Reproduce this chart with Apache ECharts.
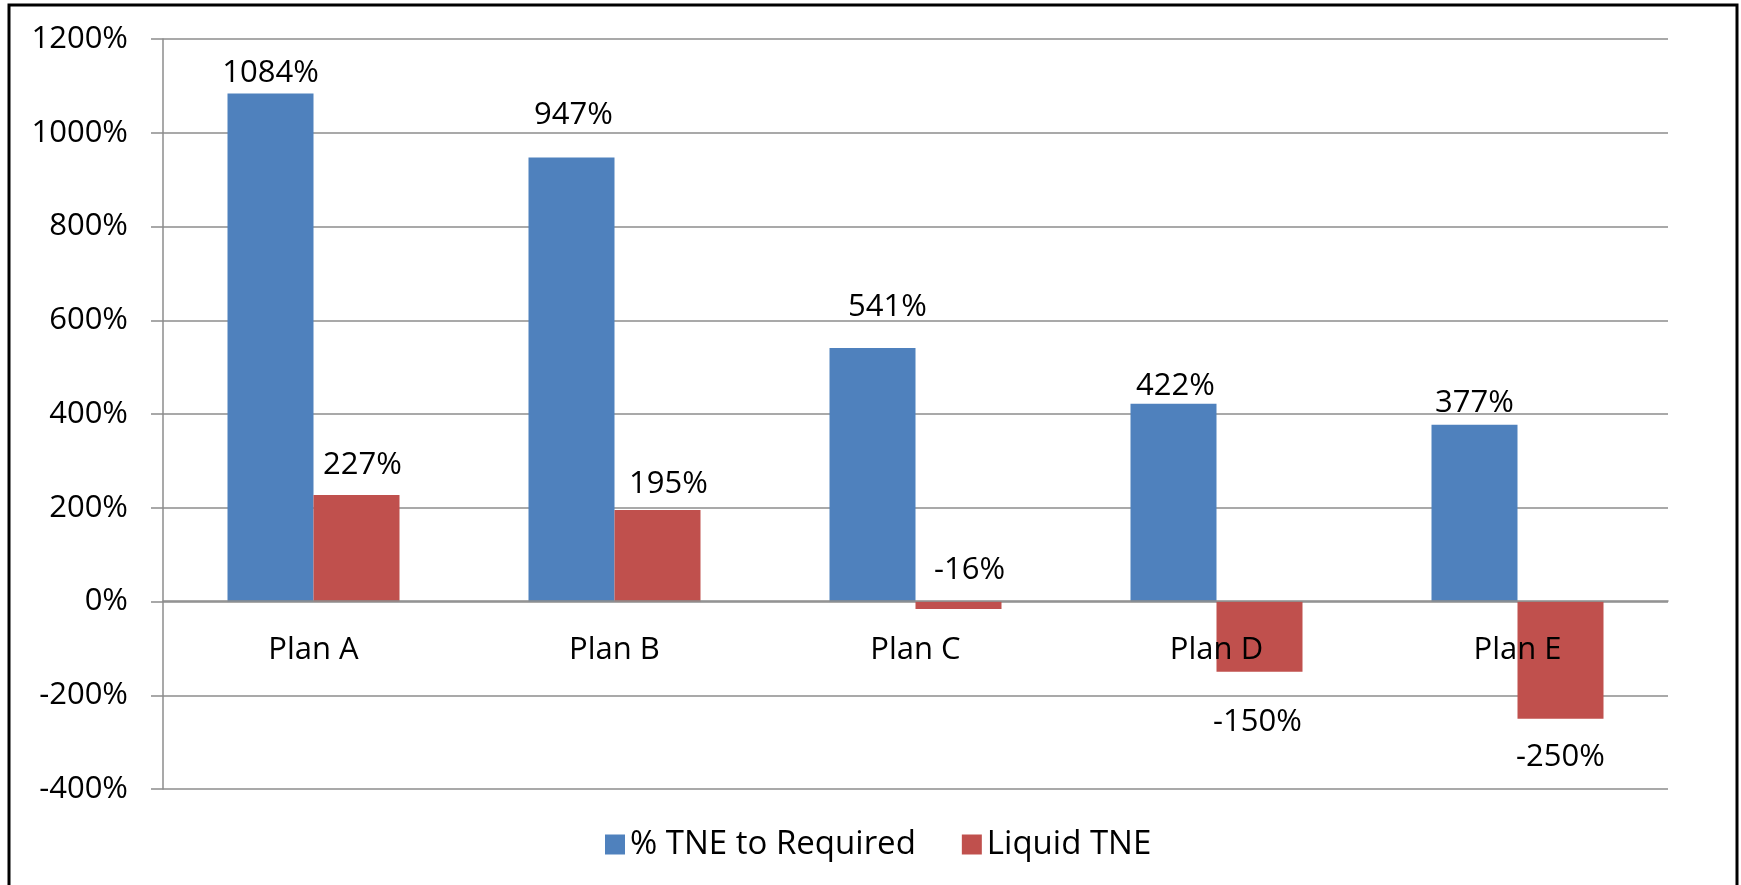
<!DOCTYPE html>
<html>
<head>
<meta charset="utf-8">
<script src="https://cdn.jsdelivr.net/npm/echarts@6/dist/echarts.min.js"></script>
<style>
  html, body { margin: 0; padding: 0; background: #fff; }
  #chart { width: 1741px; height: 885px; }
</style>
</head>
<body>
<div id="chart"></div>
<script>
// 数据
var categories = ["Plan A", "Plan B", "Plan C", "Plan D", "Plan E"];
var tneToRequired = [1084, 947, 541, 422, 377];
var liquidTne = [227, 195, -16, -150, -250];
var seriesNames = ["% TNE to Required", "Liquid TNE"];

// 标签位置微调（参照原图）
var blueLabelDist = [5, 27, 25, 2, 6];
var blueLabelDx = [0, 2, 15, 2, 0];
var redLabelPos = ["top", "top", "top", "bottom", "bottom"];
var redLabelDist = [14, 10, 16, 35, 23];
var redLabelDx = [6, 11, 11, -2, 0];

var font = "Open Sans";

function buildData(values, pos, dist, dx) {
  return values.map(function (v, i) {
    return {
      value: v,
      label: {
        position: pos[i],
        distance: dist[i],
        offset: [dx[i], 0]
      }
    };
  });
}

var myChart = echarts.init(document.getElementById("chart"));
var option = {
  backgroundColor: "#fff",
  animation: false,
  textStyle: { fontFamily: font },
  graphic: [
    {
      type: "rect",
      shape: { x: 9, y: 5, width: 1728, height: 900 },
      style: { fill: "none", stroke: "#000", lineWidth: 3 },
      z: 100
    }
  ],
  grid: {
    left: 163,
    right: 73,
    top: 39,
    bottom: 96
  },
  legend: {
    bottom: 19,
    left: 600,
    itemWidth: 20,
    itemHeight: 20,
    itemGap: 46,
    icon: "rect",
    data: seriesNames,
    textStyle: { fontSize: 33, color: "#000", fontFamily: font }
  },
  xAxis: {
    type: "category",
    data: categories,
    z: 10,
    // 轴移到 0% 处
    offset: -188,
    axisLine: { onZero: false, lineStyle: { color: "#8c8c8c", width: 1.5 } },
    axisTick: { length: 12, lineStyle: { color: "#8c8c8c", width: 1.5 } },
    axisLabel: { fontSize: 31, color: "#000", margin: 34, fontFamily: font }
  },
  yAxis: {
    type: "value",
    min: -400,
    max: 1200,
    interval: 200,
    axisLine: { show: true, lineStyle: { color: "#8c8c8c", width: 1.5 } },
    axisTick: { show: true, length: 12, lineStyle: { color: "#8c8c8c", width: 1.5 } },
    splitLine: { lineStyle: { color: "#8c8c8c", width: 1.5 } },
    axisLabel: {
      fontSize: 31,
      color: "#000",
      margin: 35,
      fontFamily: font,
      formatter: function (v) {
        return v + "%";
      }
    }
  },
  series: [
    {
      name: seriesNames[0],
      type: "bar",
      barWidth: 86,
      barGap: "0%",
      itemStyle: { color: "#4F81BD" },
      label: {
        show: true,
        fontSize: 31,
        color: "#000",
        fontFamily: font,
        formatter: "{c}%"
      },
      data: buildData(tneToRequired, ["top", "top", "top", "top", "top"], blueLabelDist, blueLabelDx)
    },
    {
      name: seriesNames[1],
      type: "bar",
      barWidth: 86,
      barGap: "0%",
      itemStyle: { color: "#C0504D" },
      label: {
        show: true,
        fontSize: 31,
        color: "#000",
        fontFamily: font,
        formatter: "{c}%"
      },
      data: buildData(liquidTne, redLabelPos, redLabelDist, redLabelDx)
    }
  ]
};
myChart.setOption(option);
window.onresize = function () {
  myChart.resize();
};
</script>
</body>
</html>
